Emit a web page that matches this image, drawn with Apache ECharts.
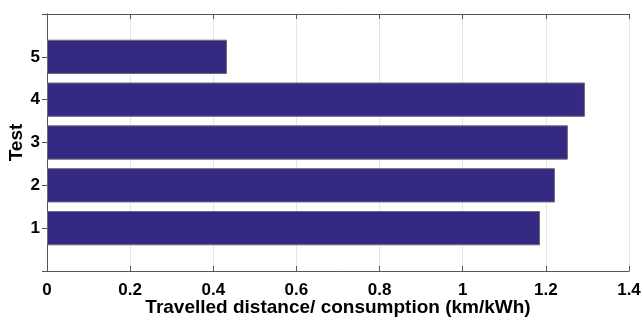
<!DOCTYPE html>
<html>
<head>
<meta charset="utf-8">
<script src="https://cdn.jsdelivr.net/npm/echarts@6/dist/echarts.min.js"></script>
<style>
html, body { margin: 0; padding: 0; background: #fff; }
#main { width: 643px; height: 322px; }
</style>
</head>
<body>
<div id="main"></div>
<script>
// test slots 0..6, only 1..5 carry a bar
var tests = ['0', '1', '2', '3', '4', '5', '6'];
var distance = [null, 1.186, 1.222, 1.253, 1.294, 0.433, null];
var xTicks = [0, 0.2, 0.4, 0.6, 0.8, 1, 1.2, 1.4];

var font = 'Liberation Sans, Arial, sans-serif';
var myChart = echarts.init(document.getElementById('main'));
var option = {
    animation: false,
    grid: {left: 47, right: 14, top: 14, bottom: 51, outerBoundsMode: 'none', containLabel: false},
    xAxis: [
        {
            type: 'value', min: xTicks[0], max: xTicks[xTicks.length - 1], interval: 0.2,
            name: 'Travelled distance/ consumption (km/kWh)',
            nameLocation: 'middle', nameGap: 27, nameMoveOverlap: false,
            nameTextStyle: {fontFamily: font, fontWeight: 'bold', fontSize: 19, color: '#000'},
            axisLine: {show: true, lineStyle: {color: '#555'}},
            axisTick: {show: true, inside: true, length: 5, lineStyle: {color: '#555'}},
            axisLabel: {fontFamily: font, fontWeight: 'bold', fontSize: 17, color: '#000', margin: 11},
            splitLine: {show: true, lineStyle: {color: '#e6e6e6'}}
        },
        {
            type: 'value', position: 'top', min: 0, max: 1.4, interval: 0.2,
            axisLine: {show: true, lineStyle: {color: '#555'}},
            axisTick: {show: true, inside: true, length: 5, lineStyle: {color: '#555'}},
            axisLabel: {show: false},
            splitLine: {show: false}
        }
    ],
    yAxis: [
        {
            type: 'category', data: tests, boundaryGap: false,
            name: 'Test', nameLocation: 'middle', nameGap: 21, nameRotate: 90, nameMoveOverlap: false,
            nameTextStyle: {fontFamily: font, fontWeight: 'bold', fontSize: 19, color: '#000'},
            axisLine: {show: true, lineStyle: {color: '#555'}},
            axisTick: {show: false},
            axisLabel: {
                fontFamily: font, fontWeight: 'bold', fontSize: 17, color: '#000', margin: 7,
                formatter: function (v) { return (v === '0' || v === '6') ? '' : v; }
            },
            splitLine: {show: false}
        },
        {
            type: 'category', data: tests, boundaryGap: false, position: 'right',
            axisLine: {show: true, lineStyle: {color: '#555'}},
            axisTick: {show: true, inside: true, length: 5, lineStyle: {color: '#555'}},
            axisLabel: {show: false},
            splitLine: {show: false}
        }
    ],
    series: [
        {
            type: 'bar', data: distance, barWidth: '80%',
            itemStyle: {color: '#352a82', borderColor: '#6a6a7a', borderWidth: 1}
        }
    ]
};
myChart.setOption(option);
</script>
</body>
</html>
